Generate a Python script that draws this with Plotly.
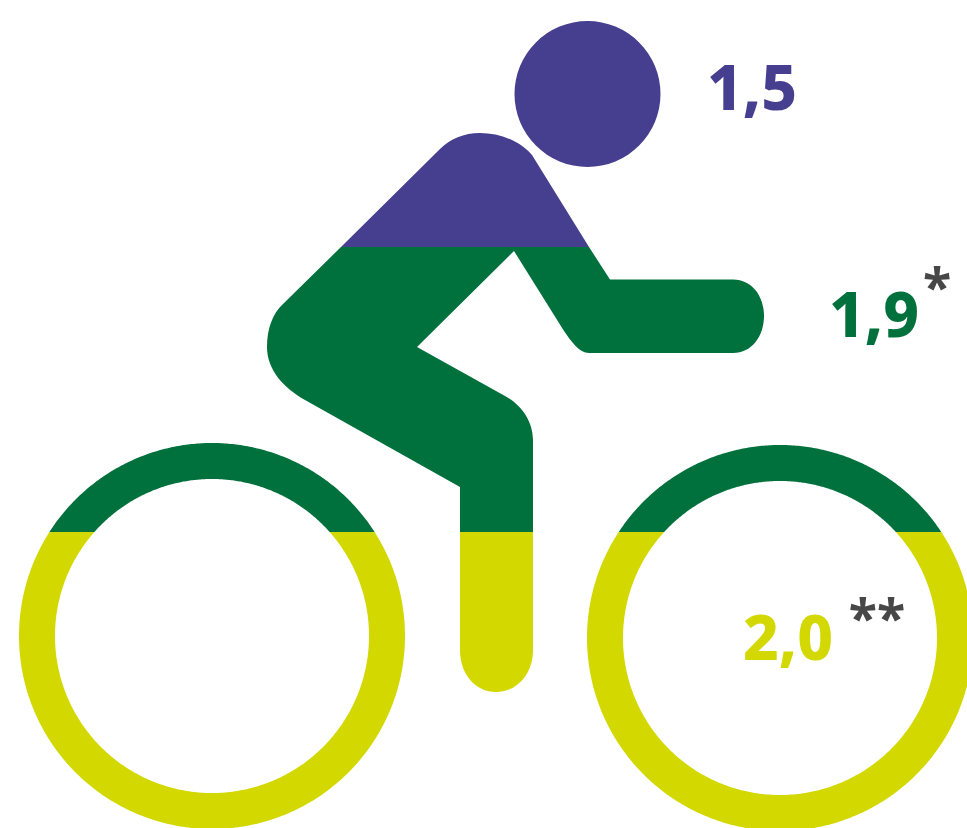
import numpy as np
import plotly.graph_objects as go

W, H = 967, 828
labels = ["1,5", "1,9", "2,0"]
label_x = [752, 874, 788]
label_y = [94, 321, 644]
marks = ["*", "**"]
mark_x = [937, 877]
mark_y = [293, 624]
PURPLE, GREEN, YELLOW, GREY = "#463f8f", "#00703c", "#d3d800", "#474747"
SPLIT = 532
WHEELS = [(212, 636), (780, 638)]
R_OUT, R_IN = 193, 157

TORSO = "M341,247 L440,149 C450,139 464,133 480,133 C500,133 520,141 532,155 L589,247 Z"
BODY = ("M341,247 L589,247 L610,279.5 L733,279.5 C752,279.5 764,296 764,316 "
        "C764,336 752,353 733,353 L589,353 C579,353 571,341 564,331 L514,251 L417,347 "
        "L505,396 C522,405 533,422 533,440 L533,532 L460,532 L460,487 L305,400 "
        "C284,388 267,370 267,347 C267,330 272,314 283,304 Z")
LEG = "M460,532 L533,532 L533,650 C533,674 517,692 496,692 C475,692 460,674 460,650 Z"


def poly(xs, ys):
    return "M" + " L".join(f"{x:.2f},{y:.2f}" for x, y in zip(xs, ys)) + " Z"


def ring_part(cx, cy, top):
    """Part of the ring above (top) or below the split line."""
    d = SPLIT - cy
    ao, ai = np.arcsin(d / R_OUT), np.arcsin(d / R_IN)
    if top:
        to = np.linspace(np.pi - ao, 2 * np.pi + ao, 200)
        ti = np.linspace(2 * np.pi + ai, np.pi - ai, 200)
    else:
        to = np.linspace(ao, np.pi - ao, 300)
        ti = np.linspace(np.pi - ai, ai, 300)
    xs = np.r_[cx + R_OUT * np.cos(to), cx + R_IN * np.cos(ti)]
    ys = np.r_[cy + R_OUT * np.sin(to), cy + R_IN * np.sin(ti)]
    return poly(xs, ys)


def solid(path, color):
    return dict(type="path", xref="x", yref="y", path=path, fillcolor=color,
                line=dict(width=0), layer="below")


shapes = [
    dict(type="circle", xref="x", yref="y", x0=514.5, x1=660.5, y0=21, y1=167,
         fillcolor=PURPLE, line=dict(width=0), layer="below"),
    solid(BODY, GREEN), solid(TORSO, PURPLE), solid(LEG, YELLOW),
]
for cx, cy in WHEELS:
    shapes += [solid(ring_part(cx, cy, True), GREEN), solid(ring_part(cx, cy, False), YELLOW)]

fig = go.Figure()
fig.add_trace(go.Scatter(x=label_x, y=label_y, text=labels, mode="text", hoverinfo="skip",
                         textposition="middle center",
                         textfont=dict(family="Noto Sans", size=62, color=[PURPLE, GREEN, YELLOW],
                                       weight=800)))
fig.add_trace(go.Scatter(x=mark_x, y=mark_y, text=marks, mode="text", hoverinfo="skip",
                         textposition="middle center",
                         textfont=dict(family="Noto Sans", size=52, color=GREY, weight="bold")))
fig.update_layout(width=W, height=H, autosize=False, margin=dict(l=0, r=0, t=0, b=0),
                  paper_bgcolor="white", plot_bgcolor="white", showlegend=False, shapes=shapes,
                  xaxis=dict(range=[0, W], visible=False, fixedrange=True),
                  yaxis=dict(range=[H, 0], visible=False, fixedrange=True))
fig.write_html("out.html", config=dict(displayModeBar=False),
               post_script="document.body.style.margin='0';document.body.style.overflow='hidden';")
